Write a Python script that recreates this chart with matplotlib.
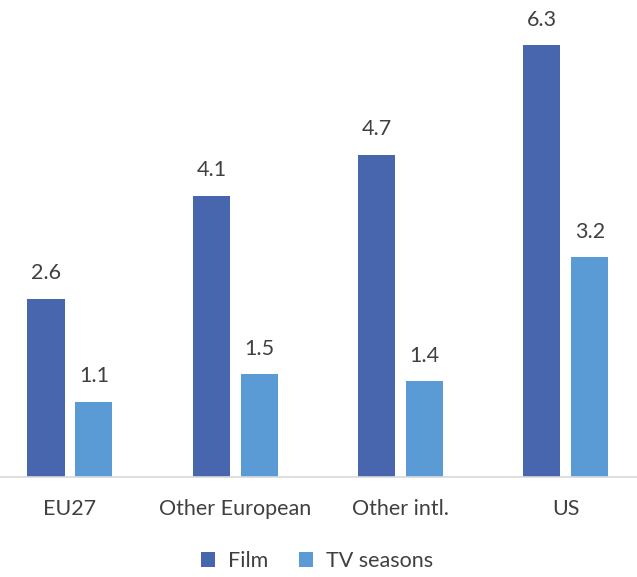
import matplotlib.pyplot as plt
import numpy as np

categories = ["EU27", "Other European", "Other intl.", "US"]
film = [2.6, 4.1, 4.7, 6.3]
tv_seasons = [1.1, 1.5, 1.4, 3.2]

plt.rcParams['font.family'] = ['Lato', 'DejaVu Sans']

W, H = 637, 577
fig = plt.figure(figsize=(W / 100, H / 100), dpi=100)
# plot area runs slightly past the image edges, like the cropped original
left = -12.7 / W
ax = fig.add_axes([left, 100 / H, 661.3 / W, 477 / H])

x = np.arange(len(categories))
bw = 0.224
off = 0.145
film_col = '#4866AE'
tv_col = '#5B9BD5'
fs = 15.5
txt = '#404040'

b1 = ax.bar(x - off, film, bw, color=film_col, label='Film')
b2 = ax.bar(x + off, tv_seasons, bw, color=tv_col, label='TV seasons')

for bars in (b1, b2):
    for r in bars:
        ax.annotate(f"{r.get_height():.1f}", (r.get_x() + r.get_width() / 2, r.get_height()),
                    xytext=(0, 11), textcoords='offset points', ha='center', va='bottom',
                    fontsize=fs, color=txt)

ax.set_xlim(-0.5, 3.5)
ax.set_ylim(0, 477 / 68.6)
ax.set_xticks(x)
ax.set_xticklabels(categories, fontsize=fs, color=txt)
ax.tick_params(axis='x', length=0, pad=16)
ax.set_yticks([])
for s in ['top', 'right', 'left']:
    ax.spines[s].set_visible(False)
ax.spines['bottom'].set_color('#d9d9d9')
ax.spines['bottom'].set_linewidth(1.2)

fig.legend(handles=[b1, b2], loc='center', bbox_to_anchor=(317 / W, 1 - 561 / H), ncol=2,
           frameon=False, fontsize=fs, handlelength=0.65, handleheight=0.65,
           columnspacing=1.4, handletextpad=0.6, labelcolor=txt)

fig.savefig('out.png', dpi=100)
